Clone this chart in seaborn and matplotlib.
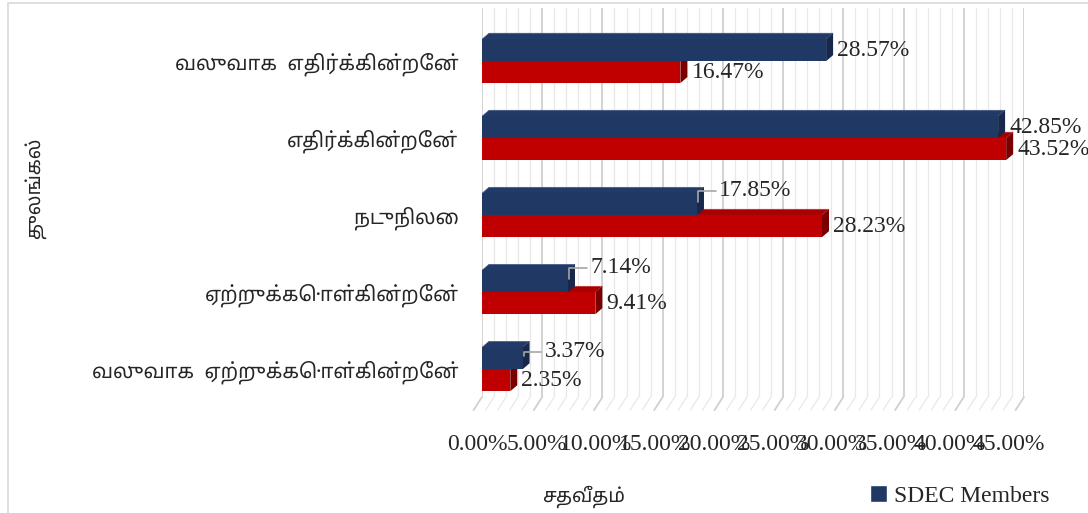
import pandas as pd
import seaborn as sns
import matplotlib.pyplot as plt
from matplotlib.patches import Polygon, Rectangle
from matplotlib.ticker import MultipleLocator, FuncFormatter
from matplotlib.transforms import ScaledTranslation

# Data
responses = ['வலுவாக  எதிர்க்கின்றேன்', 'எதிர்க்கின்றேன்', 'நடுநிலை',
             'ஏற்றுக்கொள்கின்றேன்', 'வலுவாக  ஏற்றுக்கொள்கின்றேன்']
sdec_members = [28.57, 42.85, 17.85, 7.14, 3.37]
other_group = [16.47, 43.52, 28.23, 9.41, 2.35]
series_names = ['SDEC Members', 'Non Members']
blue, red = '#203864', '#c00000'

df = pd.DataFrame({
    'response': responses * 2,
    'pct': sdec_members + other_group,
    'group': [series_names[0]] * 5 + [series_names[1]] * 5,
})

sns.set_style('white')
tamil = ['Noto Sans Tamil', 'Lohit Tamil', 'Latha', 'Noto Sans', 'DejaVu Sans']
serif = ['Liberation Serif', 'DejaVu Serif']
plt.rcParams['font.family'] = tamil

fig = plt.figure(figsize=(10.88, 5.13), dpi=100)
ax = fig.add_axes([482 / 1088, 1 - 397 / 513, (1024 - 482) / 1088, (397 - 8) / 513])

sns.barplot(data=df, y='response', x='pct', hue='group', hue_order=series_names,
            palette=[blue, red], width=0.57, orient='h', ax=ax, legend=False,
            saturation=1)

y_bottom = 4.36
ax.set_xlim(0, 45)
ax.set_ylim(y_bottom, -0.69)
ax.xaxis.set_major_locator(MultipleLocator(5))
ax.xaxis.set_minor_locator(MultipleLocator(1))
ax.xaxis.set_major_formatter(FuncFormatter(lambda v, p: f'{v:.2f}%'))
ax.grid(axis='x', which='major', color='#d0d0d0', lw=1.3)
ax.grid(axis='x', which='minor', color='#e8e8e8', lw=0.9)
ax.set_axisbelow(True)
for s in ax.spines.values():
    s.set_visible(False)
ax.tick_params(axis='both', which='both', length=0)
ax.tick_params(axis='x', pad=27)
ax.tick_params(axis='y', pad=17)
ax.set_xlabel('')
ax.set_ylabel('')
for i, lbl in enumerate(ax.get_xticklabels()):
    lbl.set_fontfamily(serif)
    lbl.set_fontsize(17)
    # labels sit on the front edge of the 3D floor, slightly left of the gridlines
    lbl.set_transform(lbl.get_transform() +
                      ScaledTranslation(-(3 + 1.2 * i) / 100, 0, fig.dpi_scale_trans))
for lbl in ax.get_yticklabels():
    lbl.set_fontsize(14.5)

# slanted floor lines under the gridlines
for v in range(0, 46):
    major = v % 5 == 0
    ax.plot([v, v - 0.7], [y_bottom, y_bottom + 0.17], color='#d0d0d0' if major else '#e8e8e8',
            lw=1.3 if major else 0.9, clip_on=False, zorder=0)

# fake 3D faces on the bars
dx, dy = 0.58, -0.078
shades = {0: ('#223a68', '#17284a', 3), 1: ('#a80000', '#7a0000', 2)}
for i, cont in enumerate(ax.containers):
    top_c, side_c, z = shades[i]
    for bar in cont:
        x0, y0, w, h = bar.get_x(), bar.get_y(), bar.get_width(), bar.get_height()
        bar.set_zorder(z + 0.5)
        bar.set_edgecolor('none')
        ax.add_patch(Polygon([(x0, y0), (x0 + w, y0), (x0 + w + dx, y0 + dy), (x0 + dx, y0 + dy)],
                             closed=True, fc=top_c, ec='#4a5f8a' if i == 0 else '#d04040',
                             lw=0.4, zorder=z))
        ax.add_patch(Polygon([(x0 + w, y0), (x0 + w, y0 + h), (x0 + w + dx, y0 + h + dy),
                              (x0 + w + dx, y0 + dy)],
                             closed=True, fc=side_c, ec='none', zorder=z))

# data labels
leader = {(0, 2), (0, 3), (0, 4)}
for i, cont in enumerate(ax.containers):
    for j, bar in enumerate(cont):
        w = bar.get_width()
        yc = bar.get_y() + bar.get_height() / 2
        txt = f'{w:.2f}%'
        if (i, j) in leader:
            up = 3 if j == 4 else 8
            ax.annotate(txt, xy=(w + 0.1, yc - 0.03), xytext=(15, up), textcoords='offset points',
                        va='center', ha='left', fontsize=17, family=serif, zorder=6,
                        arrowprops=dict(arrowstyle='-', color='#a6a6a6', lw=1.2,
                                        shrinkA=0, shrinkB=0,
                                        connectionstyle='angle,angleA=0,angleB=90,rad=0'))
        else:
            ax.annotate(txt, xy=(w, yc), xytext=(8, 0), textcoords='offset points',
                        va='center', ha='left', fontsize=17, family=serif, zorder=6)

# titles and legend
fig.text(583 / 1088, 1 - 497 / 513, 'சதவீதம்', ha='center', va='center', fontsize=14)
fig.text(35 / 1088, 1 - 188 / 513, 'துலங்கல்', ha='center', va='center',
         rotation=90, fontsize=14)
fig.legend(handles=[Rectangle((0, 0), 1, 1, fc=blue)], labels=[series_names[0]],
           loc='center left', bbox_to_anchor=(849 / 1088, 1 - 496 / 513), frameon=False,
           handlelength=0.7, handleheight=0.7, handletextpad=0.3,
           prop={'family': serif, 'size': 17})

# chart border
fig.patches.append(Rectangle((8 / 1088, -0.01), 1.0, 1 - 3 / 513 + 0.01,
                             transform=fig.transFigure, fill=False, ec='#d9d9d9', lw=1.2))

fig.savefig('out.png', dpi=100)
